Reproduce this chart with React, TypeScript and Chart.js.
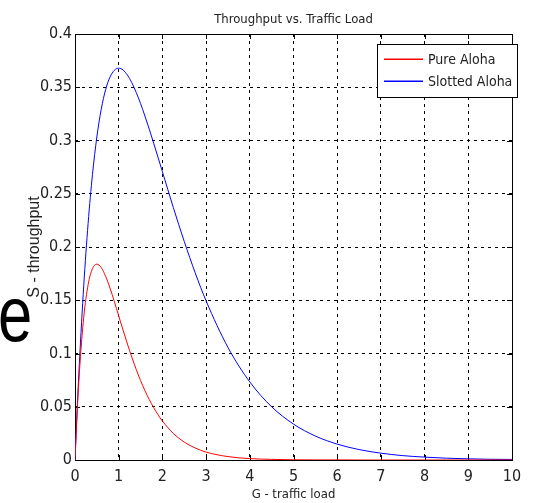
import React, { useEffect, useRef } from "react";
import { Chart, registerables } from "chart.js";

Chart.register(...registerables);

// ---- data ----
const G = [
  0, 0.05, 0.1, 0.2, 0.3, 0.4, 0.5, 0.6, 0.7, 0.8, 0.9, 1.0, 1.1, 1.2, 1.3, 1.4,
  1.5, 1.6, 1.7, 1.8, 1.9, 2.0, 2.25, 2.5, 2.75, 3.0, 3.5, 4.0, 4.5, 5.0, 5.5,
  6.0, 6.5, 7.0, 7.5, 8.0, 8.5, 9.0, 9.5, 10,
];
const pureAloha = [
  0, 0.0452, 0.0819, 0.1341, 0.1646, 0.1797, 0.1839, 0.1807, 0.1726, 0.1615,
  0.1488, 0.1353, 0.1219, 0.1089, 0.0966, 0.0851, 0.0747, 0.0652, 0.0567,
  0.0492, 0.0425, 0.0366, 0.025, 0.0168, 0.0113, 0.0074, 0.0032, 0.0013,
  0.0006, 0.0002, 0.0001, 0.0001, 0, 0, 0, 0, 0, 0, 0, 0,
];
const slottedAloha = [
  0, 0.0476, 0.0905, 0.1637, 0.2222, 0.2681, 0.3033, 0.3293, 0.3476, 0.3595,
  0.3659, 0.3679, 0.3662, 0.3614, 0.3543, 0.3452, 0.3347, 0.323, 0.3106,
  0.2975, 0.2842, 0.2707, 0.2371, 0.2052, 0.1758, 0.1494, 0.1057, 0.0733,
  0.05, 0.0337, 0.0225, 0.0149, 0.0098, 0.0064, 0.0041, 0.0027, 0.0017,
  0.0011, 0.0007, 0.0005,
];
const xTickValues = [0, 1, 2, 3, 4, 5, 6, 7, 8, 9, 10];
const yTickValues = [0, 0.05, 0.1, 0.15, 0.2, 0.25, 0.3, 0.35, 0.4];
const seriesLabels = ["Pure Aloha", "Slotted Aloha"];
const seriesColors = ["#ff0000", "#0000ff"];
const chartTitle = "Throughput vs. Traffic Load";
const xTitle = "G - traffic load";
const yTitle = "S - throughput";
const strayLetter = "e";

const NARROW = "'DejaVu Sans Condensed', 'Liberation Sans', sans-serif";
const REGULAR = "'Liberation Sans', Arial, sans-serif";

const decorPlugin = {
  id: "decor",
  beforeDatasetsDraw(chart: any) {
    const { ctx, chartArea } = chart;
    const { left, right, top, bottom } = chartArea;
    ctx.save();
    ctx.strokeStyle = "#000";
    ctx.lineWidth = 1;
    ctx.setLineDash([]);
    ctx.strokeRect(Math.round(left) + 0.5, Math.round(top) + 0.5, Math.round(right - left), Math.round(bottom - top));
    // inner tick marks (MATLAB style)
    const xs = chart.scales.x;
    const ys = chart.scales.y;
    const tl = 5;
    ctx.beginPath();
    xTickValues.forEach((v) => {
      const px = Math.round(xs.getPixelForValue(v)) + 0.5;
      ctx.moveTo(px, bottom);
      ctx.lineTo(px, bottom - tl);
      ctx.moveTo(px, top);
      ctx.lineTo(px, top + tl);
    });
    yTickValues.forEach((v) => {
      const py = Math.round(ys.getPixelForValue(v)) + 0.5;
      ctx.moveTo(left, py);
      ctx.lineTo(left + tl, py);
      ctx.moveTo(right, py);
      ctx.lineTo(right - tl, py);
    });
    ctx.stroke();
    ctx.restore();
  },
  afterDraw(chart: any) {
    const { ctx, chartArea } = chart;
    ctx.save();
    ctx.setLineDash([]);
    // title
    ctx.fillStyle = "#222";
    ctx.font = `13px ${NARROW}`;
    ctx.textAlign = "center";
    ctx.textBaseline = "alphabetic";
    ctx.fillText(chartTitle, (chartArea.left + chartArea.right) / 2, 23);

    // stray big letter at the left
    ctx.save();
    ctx.fillStyle = "#000";
    ctx.font = `77px ${REGULAR}`;
    ctx.textAlign = "left";
    ctx.translate(-2, 341);
    ctx.scale(0.8, 1);
    ctx.fillText(strayLetter, 0, 0);
    ctx.restore();

    // legend
    const bx = 377, by = 44, bw = 140, bh = 53;
    ctx.fillStyle = "#fff";
    ctx.fillRect(bx, by, bw, bh);
    ctx.strokeStyle = "#000";
    ctx.lineWidth = 1;
    ctx.strokeRect(bx + 0.5, by + 0.5, bw, bh);
    const rows = [59, 81];
    chart.data.datasets.forEach((ds: any, i: number) => {
      ctx.fillStyle = seriesColors[i];
      ctx.fillRect(384, rows[i] - 0.5, 39, 1.5);
      ctx.fillStyle = "#222";
      ctx.font = `14px ${NARROW}`;
      ctx.textAlign = "left";
      ctx.textBaseline = "middle";
      ctx.fillText(ds.label, 428, rows[i] + 1);
    });
    ctx.restore();
  },
};

export default function App() {
  const canvasRef = useRef<HTMLCanvasElement | null>(null);

  useEffect(() => {
    const canvas = canvasRef.current;
    if (!canvas) return;
    const datasets = [pureAloha, slottedAloha].map((vals, i) => ({
      label: seriesLabels[i],
      data: G.map((g, k) => ({ x: g, y: vals[k] })),
      borderColor: seriesColors[i],
      backgroundColor: seriesColors[i],
      borderWidth: 1,
      pointRadius: 0,
      cubicInterpolationMode: "monotone" as const,
      fill: false,
    }));

    const chart = new Chart(canvas, {
      type: "line",
      data: { datasets },
      plugins: [decorPlugin],
      options: {
        responsive: false,
        animation: false,
        devicePixelRatio: 1,
        layout: { padding: { top: 34, right: 21, left: 0, bottom: 0 } },
        plugins: {
          legend: { display: false },
          title: { display: false },
          tooltip: { enabled: false },
        },
        scales: {
          x: {
            type: "linear",
            min: 0,
            max: 10,
            afterFit: (s: any) => {
              s.height = 43;
            },
            afterBuildTicks: (s: any) => {
              s.ticks = xTickValues.map((v) => ({ value: v }));
            },
            ticks: {
              padding: 7,
              color: "#222",
              font: { family: NARROW, size: 16 },
              maxRotation: 0,
              callback: (v: any) => String(v),
            },
            grid: {
              color: "#000",
              lineWidth: 1,
              drawTicks: false,
            },
            border: { display: false, dash: [3, 4] },
            title: {
              display: true,
              text: xTitle,
              color: "#222",
              font: { family: NARROW, size: 13, lineHeight: 1 },
              padding: { top: 0, bottom: 2 },
            },
          },
          y: {
            type: "linear",
            min: 0,
            max: 0.4,
            afterFit: (s: any) => {
              s.width = 75;
            },
            afterBuildTicks: (s: any) => {
              s.ticks = yTickValues.map((v) => ({ value: v }));
            },
            ticks: {
              padding: 3,
              color: "#222",
              font: { family: NARROW, size: 16 },
              callback: (v: any) => String(Number(Number(v).toFixed(2))),
            },
            grid: {
              color: "#000",
              lineWidth: 1,
              drawTicks: false,
            },
            border: { display: false, dash: [3, 4] },
            title: {
              display: true,
              text: yTitle,
              color: "#222",
              font: { family: REGULAR, size: 16, lineHeight: 1 },
              padding: { top: 27, bottom: 0 },
            },
          },
        },
      },
    });
    return () => chart.destroy();
  }, []);

  return (
    <div style={{ position: "absolute", left: 0, top: 0, width: 533, height: 503, background: "#fff" }}>
      <canvas ref={canvasRef} width={533} height={503} />
    </div>
  );
}
